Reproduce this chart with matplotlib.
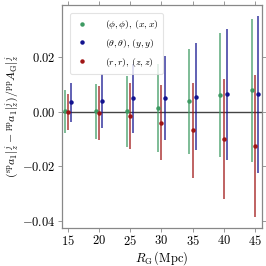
import matplotlib
matplotlib.use("Agg")
import matplotlib.pyplot as plt
from matplotlib.ticker import FuncFormatter
from matplotlib.lines import Line2D
import numpy as np

plt.rcParams['mathtext.fontset'] = 'cm'
plt.rcParams['font.family'] = 'serif'
plt.rcParams['font.serif'] = ['DejaVu Serif']

R_G = [15, 20, 25, 30, 35, 40, 45]

phi_val = [0.0002, 0.0002, 0.0002, 0.0014, 0.0038, 0.0061, 0.0078]
phi_err = [0.0078, 0.0100, 0.0130, 0.0160, 0.0193, 0.0226, 0.0260]

theta_val = [0.0034, 0.0039, 0.0049, 0.0050, 0.0055, 0.0063, 0.0063]
theta_err = [0.0072, 0.0097, 0.0127, 0.0153, 0.0195, 0.0239, 0.0288]

r_val = [-0.0002, -0.0004, -0.0015, -0.0040, -0.0068, -0.0099, -0.0126]
r_err = [0.0066, 0.0099, 0.0120, 0.0138, 0.0173, 0.0219, 0.0260]

labels = [r'$(\phi,\phi),\,(x,x)$', r'$(\theta,\theta),\,(y,y)$', r'$(r,r),\,(z,z)$']
colors = ['#3d9a62', '#12128f', '#a01515']
offsets = [-0.5, 0.5, 0.0]

fig = plt.figure(figsize=(2.66, 2.66), dpi=100)
ax = fig.add_axes([62/266, 1-228/266, (261.5-62)/266, (228-5)/266])

x = np.array(R_G, dtype=float)
handles = []
for vals, errs, lab, col, off in zip([phi_val, theta_val, r_val],
                                     [phi_err, theta_err, r_err],
                                     labels, colors, offsets):
    eb = ax.errorbar(x + off, vals, yerr=errs, fmt='o', ms=2.2, color=col,
                     ecolor=col, elinewidth=1.1, capsize=0)
    eb[2][0].set_alpha(0.85)
    handles.append(Line2D([], [], ls='none', marker='o', ms=2.2, color=col, label=lab))

ax.axhline(0, color='#444444', lw=1.0, zorder=0)

ax.set_xlim(14, 46.1)
ax.set_ylim(-0.0425, 0.039)
ax.set_xticks([15, 20, 25, 30, 35, 40, 45])
ax.set_yticks([-0.04, -0.02, 0.0, 0.02])
ax.xaxis.set_major_formatter(FuncFormatter(lambda v, p: r'$%d$' % v))
ax.yaxis.set_major_formatter(FuncFormatter(lambda v, p: r'$%.2f$' % v))
ax.tick_params(direction='out', length=3, width=0.6, color='#888888',
               labelsize=9, top=True, right=True, pad=1.5)
for s in ax.spines.values():
    s.set_color('#888888')
    s.set_linewidth(0.9)

ax.set_xlabel(r'$R_{\rm G}\,({\rm Mpc})$', fontsize=9, labelpad=1)
ax.set_ylabel(r'$({}^{\rm sp}a_1|_{z}^{j} - {}^{\rm pp}a_1|_{z}^{j})/{}^{\rm pp}A_{\rm G}|_{z}^{j}$',
              fontsize=8.5, labelpad=1)

leg = ax.legend(handles=handles, loc='upper left', fontsize=7, frameon=True,
                handlelength=1.5, handletextpad=1.6,
                borderpad=0.5, labelspacing=0.6, bbox_to_anchor=(0.015, 0.985))
leg.get_frame().set_edgecolor('#dddddd')
leg.get_frame().set_linewidth(0.8)

fig.savefig('out.png', dpi=100)
